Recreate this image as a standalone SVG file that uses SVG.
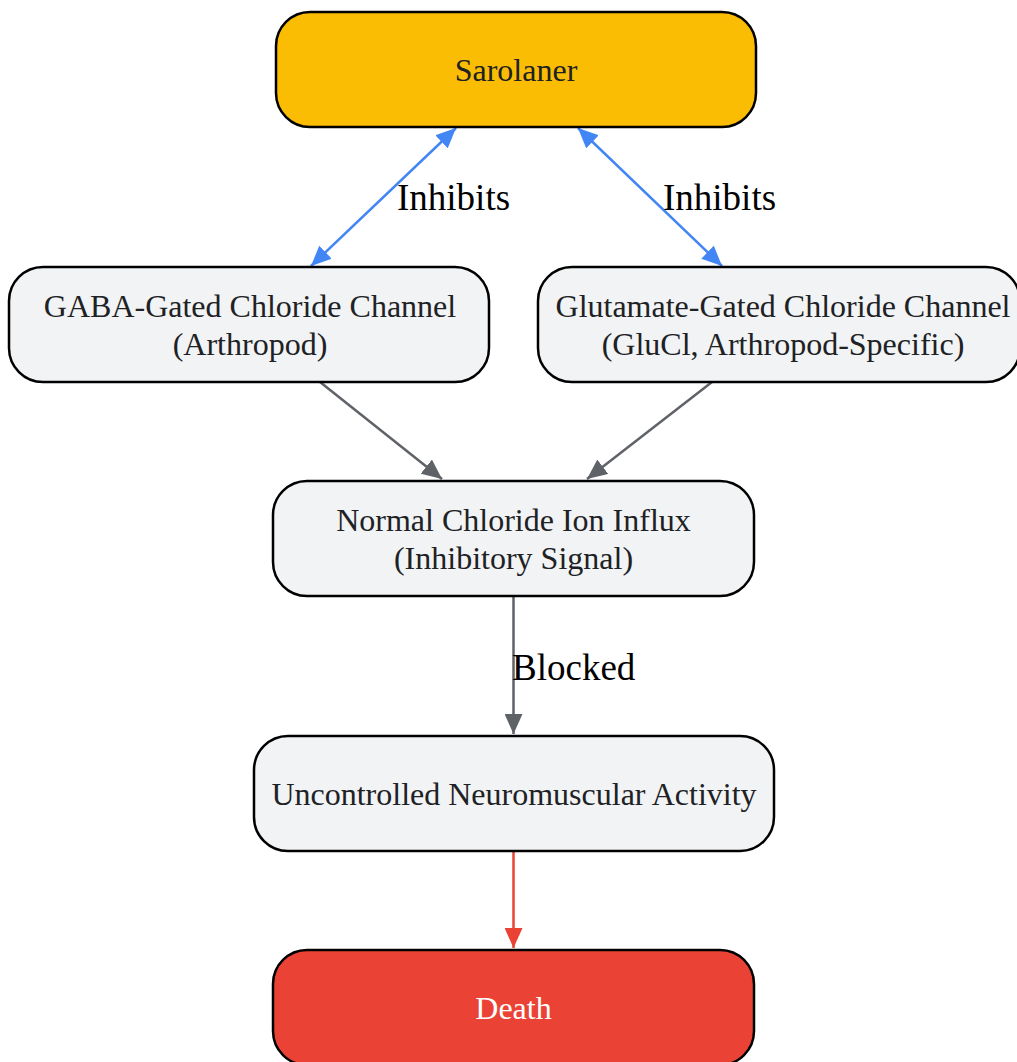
<svg xmlns="http://www.w3.org/2000/svg" width="1017" height="1062" viewBox="0 0 1017 1062">
<defs>
<style>
.node{fill:#F1F3F4;stroke:#000;stroke-width:2.5}
.t{font-family:"Liberation Serif","Times New Roman",serif;font-size:32px;fill:#202124;text-anchor:middle}
.lbl{font-family:"Liberation Serif","Times New Roman",serif;font-size:37px;fill:#000}
.blue{stroke:#4285F4;stroke-width:2.5;fill:none}
.grey{stroke:#5F6368;stroke-width:2.5;fill:none}
.red{stroke:#EA4335;stroke-width:2.5;fill:none}
</style>
<marker id="ab" markerUnits="userSpaceOnUse" viewBox="0 0 20 18" refX="20" refY="9" markerWidth="20" markerHeight="18" orient="auto-start-reverse"><path d="M0,0L20,9L0,18z" fill="#4285F4"/></marker>
<marker id="ag" markerUnits="userSpaceOnUse" viewBox="0 0 20 18" refX="20" refY="9" markerWidth="20" markerHeight="18" orient="auto"><path d="M0,0L20,9L0,18z" fill="#5F6368"/></marker>
<marker id="ar" markerUnits="userSpaceOnUse" viewBox="0 0 20 18" refX="20" refY="9" markerWidth="20" markerHeight="18" orient="auto"><path d="M0,0L20,9L0,18z" fill="#EA4335"/></marker>
</defs>
<rect width="1017" height="1062" fill="#fff"/>
<g id="connectors">
<line class="blue" x1="456" y1="128" x2="311" y2="266" marker-start="url(#ab)" marker-end="url(#ab)"/>
<line class="blue" x1="578" y1="128" x2="722" y2="266" marker-start="url(#ab)" marker-end="url(#ab)"/>
<line class="grey" x1="320" y1="382" x2="442" y2="479" marker-end="url(#ag)"/>
<line class="grey" x1="712" y1="382" x2="587" y2="479" marker-end="url(#ag)"/>
<line class="grey" x1="513.5" y1="596" x2="513.5" y2="734" marker-end="url(#ag)"/>
<line class="red" x1="513.5" y1="851" x2="513.5" y2="948" marker-end="url(#ar)"/>
<text class="lbl" x="397" y="210">Inhibits</text>
<text class="lbl" x="663" y="210">Inhibits</text>
<text class="lbl" x="512" y="680">Blocked</text>
</g>
<g id="sarolaner">
<rect x="276" y="12" width="480" height="115" rx="34" fill="#FBBC04" stroke="#000" stroke-width="2.5"/>
<text class="t" x="516" y="81">Sarolaner</text>
</g>
<g id="gaba">
<rect class="node" x="9" y="267" width="480" height="115" rx="34"/>
<text class="t" x="250" y="317">GABA-Gated Chloride Channel</text>
<text class="t" x="250" y="355">(Arthropod)</text>
</g>
<g id="glucl">
<rect class="node" x="538" y="267" width="482" height="115" rx="34"/>
<text class="t" x="783" y="317">Glutamate-Gated Chloride Channel</text>
<text class="t" x="783" y="355">(GluCl, Arthropod-Specific)</text>
</g>
<g id="influx">
<rect class="node" x="273" y="481" width="481" height="115" rx="34"/>
<text class="t" x="513.5" y="531">Normal Chloride Ion Influx</text>
<text class="t" x="513.5" y="569">(Inhibitory Signal)</text>
</g>
<g id="neuro">
<rect class="node" x="254" y="736" width="520" height="115" rx="34"/>
<text class="t" x="514" y="805">Uncontrolled Neuromuscular Activity</text>
</g>
<g id="death">
<rect x="273" y="950" width="481" height="115" rx="34" fill="#EA4335" stroke="#000" stroke-width="2.5"/>
<text class="t" x="513.5" y="1019" style="fill:#fff">Death</text>
</g>
</svg>
